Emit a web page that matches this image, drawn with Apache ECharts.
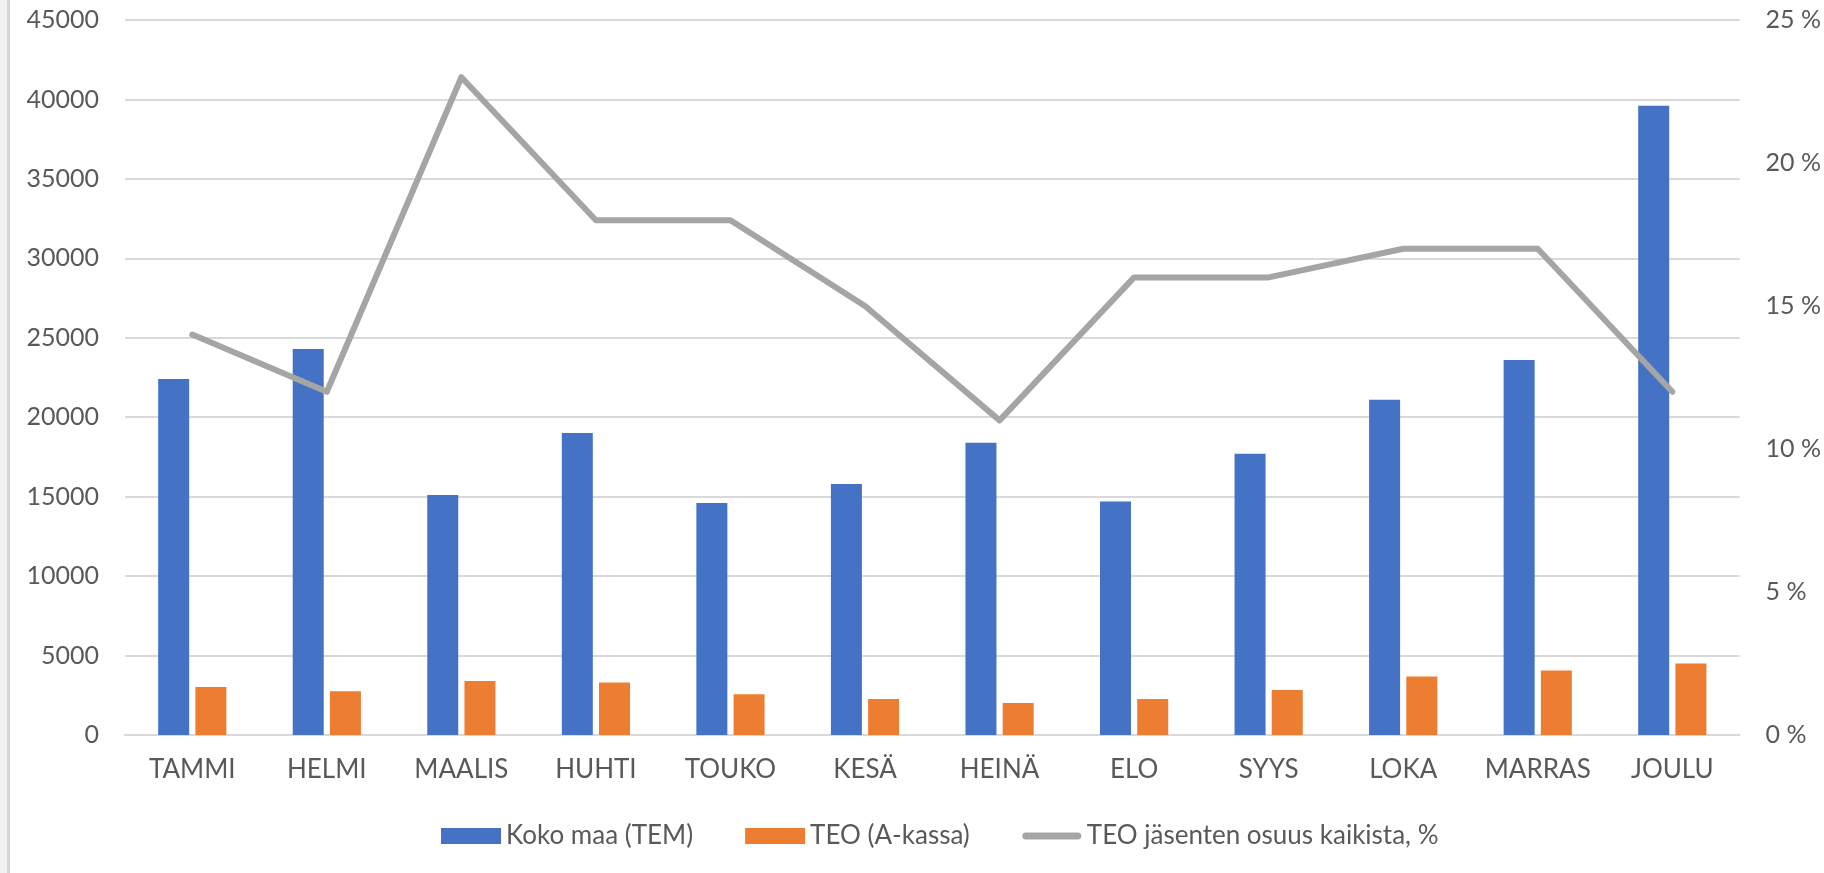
<!DOCTYPE html>
<html>
<head>
<meta charset="utf-8">
<script src="https://cdn.jsdelivr.net/npm/echarts@6/dist/echarts.min.js"></script>
<style>
html,body{margin:0;padding:0;background:#fff;}
#chart{width:1824px;height:873px;}
</style>
</head>
<body>
<div id="chart"></div>
<script>
const categories = ['TAMMI','HELMI','MAALIS','HUHTI','TOUKO','KESÄ','HEINÄ','ELO','SYYS','LOKA','MARRAS','JOULU'];
const kokoMaa = [22400, 24300, 15100, 19000, 14600, 15800, 18400, 14700, 17700, 21100, 23600, 39600];
const teo = [3020, 2750, 3400, 3300, 2560, 2270, 2020, 2270, 2840, 3680, 4060, 4500];
const osuus = [14, 12, 23, 18, 18, 15, 11, 16, 16, 17, 17, 12];
const leftTicks = {min: 0, max: 45000, interval: 5000};
const rightTicks = {min: 0, max: 25, interval: 5};
const seriesNames = ['Koko maa (TEM)', 'TEO (A-kassa)', 'TEO jäsenten osuus kaikista, %'];

const FONT = 'Lato';
const TXT = '#595959';
const lineIcon = 'path://M0,0 M60,16 M4,4.5 L56,4.5 A3.5,3.5 0 0 1 56,11.5 L4,11.5 A3.5,3.5 0 0 1 4,4.5 Z';
const chart = echarts.init(document.getElementById('chart'));
chart.setOption({
  animation: false,
  textStyle: {fontFamily: FONT},
  graphic: [
    {type: 'rect', left: 0, top: 0, shape: {width: 7, height: 873}, style: {fill: '#F1F1F1'}},
    {type: 'rect', left: 7, top: 0, shape: {width: 3, height: 873}, style: {fill: '#D6D6D6'}}
  ],
  grid: {left: 125, right: 82, top: 20, bottom: 138, containLabel: false},
  legend: {
    top: 818,
    left: 436,
    itemWidth: 60,
    itemHeight: 16,
    itemGap: 52,
    symbolKeepAspect: false,
    textStyle: {fontFamily: FONT, fontSize: 26, color: TXT},
    data: [
      {name: seriesNames[0], icon: 'rect'},
      {name: seriesNames[1], icon: 'rect'},
      {name: seriesNames[2], icon: lineIcon, itemStyle: {color: '#A5A5A5'}}
    ]
  },
  xAxis: {
    type: 'category',
    data: categories,
    axisLine: {show: true, lineStyle: {color: '#D9D9D9', width: 2}},
    axisTick: {show: false},
    axisLabel: {color: TXT, fontSize: 26, fontFamily: FONT, margin: 22, interval: 0, hideOverlap: false}
  },
  yAxis: [
    {
      type: 'value', min: leftTicks.min, max: leftTicks.max, interval: leftTicks.interval,
      axisLine: {show: false}, axisTick: {show: false},
      axisLabel: {color: TXT, fontSize: 25, fontFamily: FONT, margin: 26, formatter: v => String(v)},
      splitLine: {lineStyle: {color: '#D9D9D9', width: 2}}
    },
    {
      type: 'value', min: rightTicks.min, max: rightTicks.max, interval: rightTicks.interval,
      axisLine: {show: false}, axisTick: {show: false},
      axisLabel: {color: TXT, fontSize: 25, fontFamily: FONT, margin: 26, formatter: '{value} %'},
      splitLine: {show: false}
    }
  ],
  series: [
    {name: seriesNames[0], type: 'bar', data: kokoMaa, barWidth: 31, barGap: '20%',
     itemStyle: {color: '#4472C4'}},
    {name: seriesNames[1], type: 'bar', data: teo, barWidth: 31, barGap: '20%',
     itemStyle: {color: '#ED7D31'}},
    {name: seriesNames[2], type: 'line', yAxisIndex: 1, data: osuus,
     symbol: 'none', showSymbol: false,
     lineStyle: {color: '#A5A5A5', width: 6, cap: 'round', join: 'round'},
     itemStyle: {color: '#A5A5A5'}}
  ]
});
</script>
</body>
</html>
